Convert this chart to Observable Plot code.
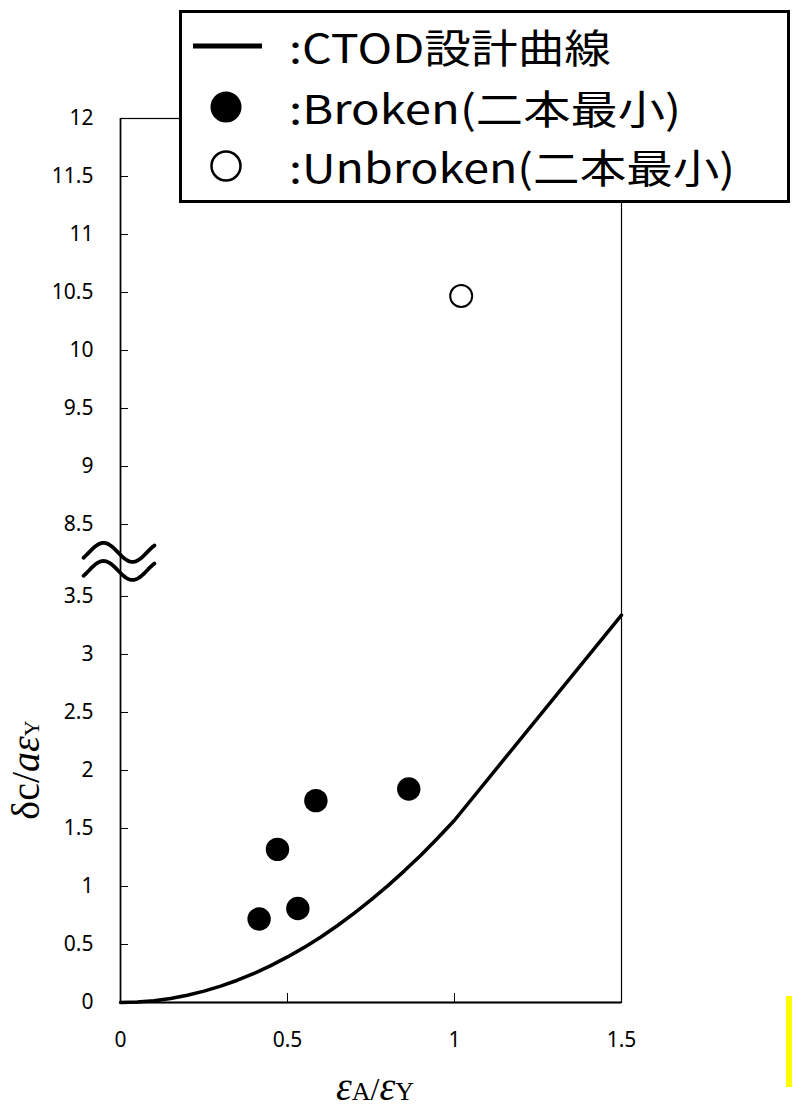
<!DOCTYPE html>
<html><head><meta charset="utf-8">
<script src="https://cdn.jsdelivr.net/npm/d3@7"></script>
<script src="https://cdn.jsdelivr.net/npm/@observablehq/plot@0.6"></script>
<style>
body{margin:0;background:#fff;}
#wrap{position:relative;width:792px;height:1109px;overflow:hidden;}
#wrap svg{display:block;}
#legend{position:absolute;left:0;top:0;}
#yellow{position:absolute;left:786px;top:996px;width:6px;height:91px;background:#ffff00;}
</style></head><body><div id="wrap"></div>
<script>
// CTOD design curve
const curveX = [0, 0.05, 0.1, 0.15, 0.2, 0.25, 0.3, 0.35, 0.4, 0.45, 0.5, 0.55, 0.6, 0.65, 0.7, 0.75, 0.8, 0.85, 0.9, 0.95, 1.0, 1.5];
const curveY = [0, 0.004, 0.016, 0.035, 0.063, 0.098, 0.141, 0.192, 0.251, 0.318, 0.393, 0.475, 0.565, 0.664, 0.770, 0.884, 1.005, 1.135, 1.272, 1.418, 1.571, 3.34];
// Broken specimens
const brokenX = [0.415, 0.531, 0.470, 0.585, 0.863];
const brokenY = [0.72, 0.81, 1.32, 1.74, 1.84];
// Unbroken specimens
const unbrokenX = [1.02];
const unbrokenY = [10.47];
// ticks
const yTicks = [0, 0.5, 1, 1.5, 2, 2.5, 3, 3.5, 8.5, 9, 9.5, 10, 10.5, 11, 11.5, 12];
const yTickLabels = ["0", "0.5", "1", "1.5", "2", "2.5", "3", "3.5", "8.5", "9", "9.5", "10", "10.5", "11", "11.5", "12"];
const xTicks = [0, 0.5, 1, 1.5];
const xTickLabels = ["0", "0.5", "1", "1.5"];
const legendLabels = [":CTOD設計曲線", ":Broken(二本最小)", ":Unbroken(二本最小)"];

// broken axis
const breakLow = 3.5, breakHigh = 8.5, breakGap = 0.62;
const ty = v => v <= breakLow + 0.3 ? v : v - (breakHigh - breakLow - breakGap);
const breakCenter = breakLow + breakGap / 2;

const curve = curveX.map((x, i) => ({x, y: curveY[i]}));
const broken = brokenX.map((x, i) => ({x, y: brokenY[i]}));
const unbroken = unbrokenX.map((x, i) => ({x, y: unbrokenY[i]}));
const yLabelMap = new Map(yTicks.map((v, i) => [ty(v), yTickLabels[i]]));
const xLabelMap = new Map(xTicks.map((v, i) => [v, xTickLabels[i]]));

// decorative break mark (two waves), in plot units
const pxX = 1.5 / 501, pxY = ty(12) / 884;
const wave = [];
for (const [k, off] of [[0, 0.07], [1, -0.086]]) {
  for (const dx of d3.range(-37, 35, 1)) {
    wave.push({k, x: dx * pxX, y: breakCenter + off + 9.5 * pxY * Math.cos(2 * Math.PI * (dx + 17) / 58)});
  }
}

const plot = Plot.plot({
  width: 792, height: 1109,
  marginLeft: 120, marginRight: 171, marginTop: 118, marginBottom: 107,
  x: {domain: [0, 1.5]},
  y: {domain: [0, ty(12)]},
  style: {fontFamily: "'Noto Sans', sans-serif", fontSize: "21px", color: "#000", background: "#fff", overflow: "visible"},
  marks: [
    Plot.frame({stroke: "#000", strokeWidth: 1.2}),
    Plot.ruleX([0], {stroke: "#000", strokeWidth: 1.6}),
    Plot.ruleY([0], {stroke: "#000", strokeWidth: 2.2}),
    Plot.axisY(yTicks.map(ty), {anchor: "left", tickSize: -8, tickPadding: 35, fontSize: 21, label: null, tickFormat: d => yLabelMap.get(d)}),
    Plot.axisX(xTicks, {anchor: "bottom", tickSize: -9, tickPadding: 39, fontSize: 21, label: null, tickFormat: d => xLabelMap.get(d)}),
    Plot.line(wave, {x: "x", y: "y", z: "k", stroke: "#000", strokeWidth: 3.8, clip: false}),
    Plot.line(curve, {x: "x", y: d => ty(d.y), stroke: "#000", strokeWidth: 3.5}),
    Plot.dot(broken, {x: "x", y: d => ty(d.y), r: 11.7, fill: "#000", stroke: "none"}),
    Plot.dot(unbroken, {x: "x", y: d => ty(d.y), r: 11, fill: "#fff", stroke: "#000", strokeWidth: 2})
  ]
});

const wrap = document.getElementById("wrap");
wrap.appendChild(plot);
const svg = d3.select(plot);

// y-axis title
const yt = svg.append("text")
  .attr("transform", "translate(39,770) rotate(-90)")
  .attr("text-anchor", "middle")
  .attr("font-family", "'Liberation Serif', serif")
  .attr("fill", "#000");
yt.append("tspan").attr("font-size", 40).text("δc/");
yt.append("tspan").attr("font-size", 40).attr("font-style", "italic").text("aε");
yt.append("tspan").attr("font-size", 22).text("Y");

// x-axis title
const xt = svg.append("text")
  .attr("x", 375).attr("y", 1100)
  .attr("text-anchor", "middle")
  .attr("font-family", "'Liberation Serif', serif")
  .attr("fill", "#000");
xt.append("tspan").attr("font-size", 40).attr("font-style", "italic").text("ε");
xt.append("tspan").attr("font-size", 26).text("A");
xt.append("tspan").attr("font-size", 32).text("/");
xt.append("tspan").attr("font-size", 40).attr("font-style", "italic").text("ε");
xt.append("tspan").attr("font-size", 26).text("Y");

// legend
const lg = d3.select(wrap).append("svg").attr("id", "legend").attr("width", 792).attr("height", 210);
lg.append("rect").attr("x", 180.5).attr("y", 11.5).attr("width", 608).attr("height", 190)
  .attr("fill", "#fff").attr("stroke", "#000").attr("stroke-width", 3);
lg.append("line").attr("x1", 193).attr("x2", 262).attr("y1", 46).attr("y2", 46).attr("stroke", "#000").attr("stroke-width", 5);
lg.append("circle").attr("cx", 226).attr("cy", 107).attr("r", 15.5).attr("fill", "#000");
lg.append("circle").attr("cx", 226).attr("cy", 166).attr("r", 14.5).attr("fill", "#fff").attr("stroke", "#000").attr("stroke-width", 2.5);
const baselines = [63, 124, 183];
const legendWidths = [322, 392, 446];
legendLabels.forEach((t, i) => {
  lg.append("text").attr("x", 289).attr("y", baselines[i])
    .attr("font-family", "'Noto Sans CJK JP', sans-serif").attr("font-size", 40)
    .attr("textLength", legendWidths[i]).attr("lengthAdjust", "spacingAndGlyphs")
    .attr("fill", "#000").text(t);
});

d3.select(wrap).append("div").attr("id", "yellow");
</script>
</body></html>
